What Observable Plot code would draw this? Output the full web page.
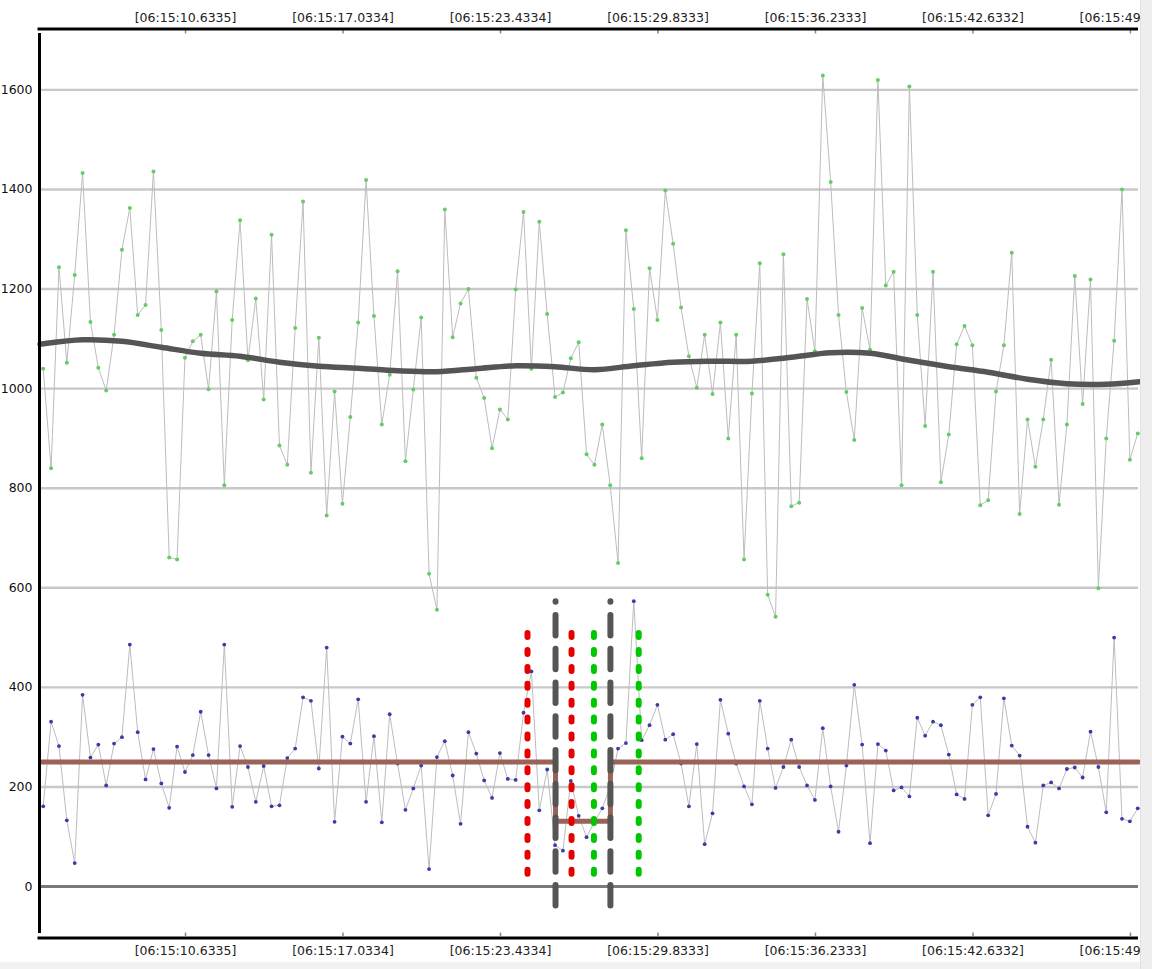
<!DOCTYPE html>
<html>
<head>
<meta charset="utf-8">
<script src="https://cdn.jsdelivr.net/npm/d3@7"></script>
<script src="https://cdn.jsdelivr.net/npm/@observablehq/plot@0.6"></script>
<style>
  html, body { margin: 0; padding: 0; background: #ffffff; overflow: hidden; }
  #wrap { position: relative; width: 1152px; height: 969px; }
  #edge { position: absolute; left: 1140px; top: 0; width: 12px; height: 969px; background: #eeeeee; border-left: 1px solid #e2e2e2; }
  #bottomEdge { position: absolute; left: 0; top: 962px; width: 1152px; height: 7px; background: #f2f2f2; }
</style>
</head>
<body>
<div id="wrap"><div id="chart"></div><div id="bottomEdge"></div><div id="edge"></div></div>
<script>
// ---- sampling (seconds after 06:15:00) ----
const sampleStart = 4.85;
const sampleStep = 0.32;

// ---- upper series (green markers) ----
const greenValues = [
  1040, 840, 1244, 1052, 1228, 1433, 1134, 1042, 996, 1108,
  1279, 1363, 1148, 1168, 1436, 1118, 661, 657, 1062, 1095,
  1108, 999, 1195, 806, 1138, 1338, 1057, 1181, 978, 1309,
  886, 847, 1122, 1376, 831, 1102, 745, 994, 769, 943,
  1133, 1419, 1146, 928, 1028, 1236, 854, 998, 1143, 628,
  556, 1360, 1103, 1171, 1200, 1022, 981, 880, 958, 938,
  1199, 1355, 1040, 1335, 1150, 983, 992, 1061, 1093, 868,
  847, 928, 806, 650, 1318, 1160, 860, 1242, 1138, 1398,
  1291, 1163, 1065, 1002, 1108, 989, 1133, 900, 1108, 657,
  990, 1252, 586, 542, 1270, 764, 771, 1180, 1075, 1629,
  1415, 1148, 993, 897, 1162, 1078, 1620, 1207, 1235, 806,
  1607, 1148, 925, 1235, 812, 908, 1089, 1126, 1087, 766,
  776, 994, 1087, 1273, 748, 938, 843, 938, 1058, 767,
  928, 1226, 969, 1219, 599, 900, 1096, 1400, 857, 910
];

// ---- lower series (blue markers) ----
const blueValues = [
  161, 331, 282, 133, 47, 385, 259, 285, 203, 287,
  300, 486, 310, 215, 276, 207, 158, 281, 230, 264,
  351, 264, 197, 486, 160, 282, 240, 170, 242, 161,
  163, 258, 277, 380, 373, 237, 480, 130, 301, 287,
  376, 170, 302, 129, 346, 247, 154, 197, 243, 35,
  260, 292, 223, 126, 310, 267, 213, 178, 268, 216,
  214, 349, 432, 153, 235, 83, 72, 212, 142, 99,
  130, 157, 200, 277, 288, 573, 294, 324, 365, 295,
  306, 247, 161, 286, 85, 147, 375, 307, 247, 201,
  165, 373, 277, 198, 240, 295, 240, 203, 174, 318,
  201, 110, 243, 405, 285, 87, 286, 273, 193, 199,
  181, 339, 303, 331, 324, 265, 185, 176, 365, 380,
  143, 186, 378, 283, 263, 120, 88, 203, 209, 197,
  236, 239, 219, 311, 240, 149, 500, 136, 131, 157
];

// ---- smooth trend of the upper series (sample index, value) ----
const trendIndex = [-0.4, 0, 5, 10, 15, 20, 25, 30, 35, 40, 45, 50, 55, 60, 65, 70, 75, 80, 85, 90, 95, 100, 105, 110, 115, 120, 125, 130, 135, 139.2];
const trendValues = [1089, 1090, 1098, 1095, 1083, 1071, 1065, 1053, 1045, 1041, 1036, 1034, 1040, 1046, 1044, 1038, 1046, 1053, 1055, 1055, 1063, 1072, 1071, 1057, 1044, 1033, 1019, 1010, 1009, 1014];

// ---- level (brown step line) ----
const levelTimes = [4.74, 25.67, 27.90, 49.36];
const levelValues = [250, 131, 250, 250];

// ---- vertical markers ----
const redMarkerTimes = [24.53, 26.32];
const greenMarkerTimes = [27.23, 29.05];
const grayMarkerTimes = [25.67, 27.90];

// ---- axes ----
const yTicks = [0, 200, 400, 600, 800, 1000, 1200, 1400, 1600];
const gridValues = [200, 400, 600, 800, 1000, 1200, 1400, 1600];
const xTickTimes = [10.6335, 17.0334, 23.4334, 29.8333, 36.2333, 42.6332, 49.0332];
const xTickLabels = ["[06:15:10.6335]", "[06:15:17.0334]", "[06:15:23.4334]", "[06:15:29.8333]", "[06:15:36.2333]", "[06:15:42.6332]", "[06:15:49.0332]"];

const xMin = 4.74, xMax = 49.36;
const yMin = -100.4, yMax = 1719.3;

const greenData = greenValues.map((v, i) => ({t: sampleStart + i * sampleStep, v}));
const blueData = blueValues.map((v, i) => ({t: sampleStart + i * sampleStep, v}));
const trendData = trendIndex.map((k, i) => ({t: sampleStart + k * sampleStep, v: trendValues[i]}));
const levelData = levelTimes.map((t, i) => ({t, v: levelValues[i]}));

const chart = Plot.plot({
  width: 1152,
  height: 969,
  marginLeft: 40,
  marginRight: 14,
  marginTop: 30,
  marginBottom: 33,
  x: {domain: [xMin, xMax], axis: null},
  y: {domain: [yMin, yMax], axis: null},
  style: {fontFamily: "DejaVu Sans", fontSize: "12.5px", color: "#111", background: "#ffffff", overflow: "hidden"},
  marks: [
    Plot.ruleY(gridValues, {stroke: "#c8c8c8", strokeWidth: 2.4}),
    Plot.ruleY([0], {stroke: "#7a7a7a", strokeWidth: 3}),
    Plot.line(greenData, {x: "t", y: "v", stroke: "#bdbdbd", strokeWidth: 1}),
    Plot.line(blueData, {x: "t", y: "v", stroke: "#bdbdbd", strokeWidth: 1}),
    Plot.dot(greenData, {x: "t", y: "v", r: 2, fill: "#66cc66", stroke: "none"}),
    Plot.dot(blueData, {x: "t", y: "v", r: 1.9, fill: "#3a3aa8", stroke: "none"}),
    Plot.line(trendData, {x: "t", y: "v", curve: "catmull-rom", stroke: "#555555", strokeWidth: 5.5}),
    Plot.line(levelData, {x: "t", y: "v", curve: "step-after", stroke: "#9a6259", strokeWidth: 5}),
    Plot.ruleX(redMarkerTimes, {y1: 508, y2: 24, stroke: "#e60000", strokeWidth: 6, strokeDasharray: "4,12.9", strokeLinecap: "round"}),
    Plot.ruleX(greenMarkerTimes, {y1: 508, y2: 24, stroke: "#00c800", strokeWidth: 6, strokeDasharray: "4,12.9", strokeLinecap: "round"}),
    Plot.ruleX(grayMarkerTimes, {y1: 572, y2: -39, stroke: "#555555", strokeWidth: 6, strokeDasharray: "20.5,13.25", strokeDashoffset: 20, strokeLinecap: "round"}),
    // small tick marks inside frame
    Plot.ruleX(xTickTimes, {y1: yMax, y2: yMax - 7, stroke: "#888", strokeWidth: 1.5}),
    Plot.ruleX(xTickTimes, {y1: yMin, y2: yMin + 7, stroke: "#888", strokeWidth: 1.5}),
    // frame
    Plot.ruleX([xMin], {y1: yMin, y2: yMax, stroke: "#000", strokeWidth: 3, dx: -1, insetTop: -3, insetBottom: -3}),
    Plot.ruleY([yMax], {x1: xMin, x2: xMax, stroke: "#000", strokeWidth: 3, dy: -1.5, insetLeft: -2.5}),
    Plot.ruleY([yMin], {x1: xMin, x2: xMax, stroke: "#000", strokeWidth: 3, dy: 1.5, insetLeft: -2.5}),
    // labels
    Plot.text(yTicks, {x: xMin, y: d => d, text: d => String(d), textAnchor: "end", dx: -8, fill: "#111"}),
    Plot.text(xTickTimes, {x: d => d, y: yMax, text: (d, i) => xTickLabels[i], dy: -13, fill: "#222"}),
    Plot.text(xTickTimes, {x: d => d, y: yMin, text: (d, i) => xTickLabels[i], dy: 14, fill: "#222"})
  ]
});
document.getElementById("chart").appendChild(chart);
</script>
</body>
</html>
